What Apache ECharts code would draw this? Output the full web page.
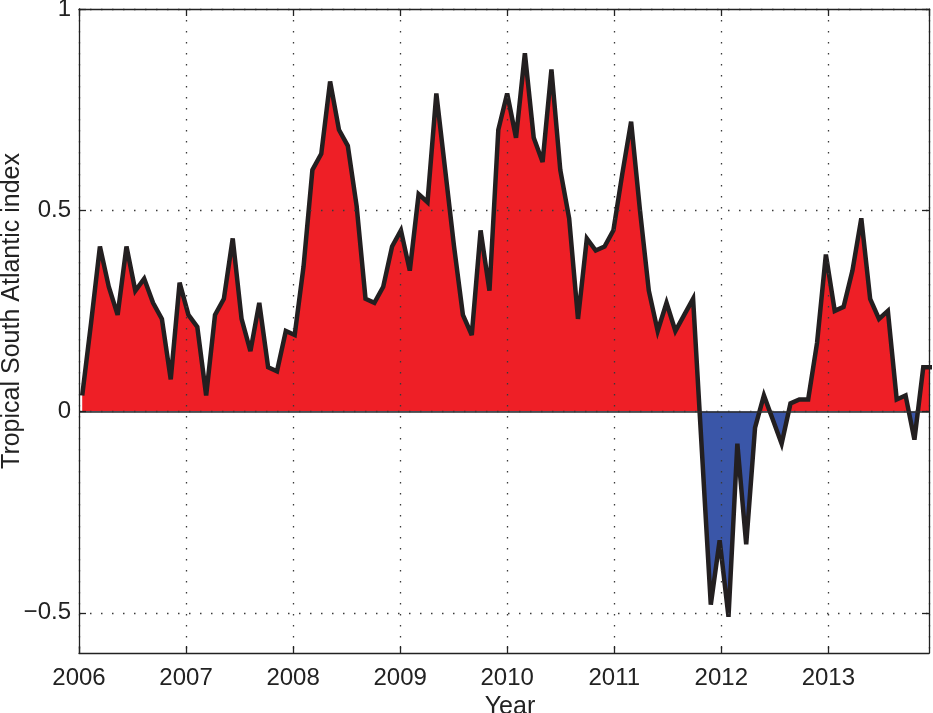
<!DOCTYPE html>
<html>
<head>
<meta charset="utf-8">
<script src="https://cdn.jsdelivr.net/npm/echarts@6/dist/echarts.min.js"></script>
<style>
  html, body {margin:0; padding:0; background:#fff;}
  #chart {width:933px; height:713px;}
</style>
</head>
<body>
<div id="chart"></div>
<script>
// Tropical South Atlantic index, monthly, Jan 2006 .. end 2013 (last sample lies past the right edge)
const indexValues = [
    0.04, 0.22, 0.41, 0.31, 0.24, 0.41, 0.30, 0.33, 0.27, 0.23, 0.08, 0.32,
    0.24, 0.21, 0.04, 0.24, 0.28, 0.43, 0.23, 0.15, 0.27, 0.11, 0.10, 0.20,
    0.19, 0.36, 0.60, 0.64, 0.82, 0.70, 0.66, 0.51, 0.28, 0.27, 0.31, 0.41,
    0.45, 0.35, 0.54, 0.52, 0.79, 0.60, 0.41, 0.24, 0.19, 0.45, 0.30, 0.70,
    0.79, 0.68, 0.89, 0.68, 0.62, 0.85, 0.60, 0.48, 0.23, 0.43, 0.40, 0.41,
    0.45, 0.59, 0.72, 0.50, 0.30, 0.20, 0.27, 0.20, 0.24, 0.28, -0.10, -0.48,
    -0.32, -0.51, -0.08, -0.33, -0.04, 0.04, -0.02, -0.08, 0.02, 0.03, 0.03, 0.17,
    0.39, 0.25, 0.26, 0.35, 0.48, 0.28, 0.23, 0.25, 0.03, 0.04, -0.07, 0.11,
    0.11
];
// time of each sample in decimal years (first sample and step)
const firstTime = 2006.03;
const sampleStep = 0.0827;
const times = indexValues.map((v, i) => firstTime + i * sampleStep);

const xMin = 2006, xMax = 2013.94;
const yMin = -0.6, yMax = 1;
const yTicks = [-0.5, 0, 0.5, 1];

const seriesData = indexValues.map((v, i) => [times[i], v]);

const font = "'Liberation Sans', Arial, Helvetica, sans-serif";
const ink = '#222';
const posColor = '#ee1f26', negColor = '#3a56a8';
const gridDots = {color:'#3a3a3a', width:1.3, type:[1.5, 9.5]};
const axisStroke = {color:ink, width:1.3};
const fmtY = v => v < 0 ? '\u2212' + Math.abs(v) : String(v);

let chart = echarts.init(document.getElementById('chart'), null, {renderer:'canvas'});
let options = {
    animation: false,
    backgroundColor: '#fff',
    grid: {left:79, right:4, top:9, bottom:60, outerBoundsMode:'none'},
    xAxis: [{
        type: 'value',
        min: xMin, max: xMax, interval: 1,
        position: 'bottom',
        z: 6,
        name: 'Year',
        nameLocation: 'middle',
        nameGap: 42,
        nameMoveOverlap: false,
        nameTextStyle: {fontFamily:font, fontSize:25, color:ink, verticalAlign:'top', padding:[0,0,0,12]},
        axisLine: {show:true, onZero:false, lineStyle:axisStroke},
        axisTick: {show:true, inside:true, length:7, lineStyle:axisStroke},
        axisLabel: {
            show:true, margin:13, fontFamily:font, fontSize:24, color:ink,
            showMaxLabel:false, formatter: v => String(Math.round(v))
        },
        splitLine: {show:true, lineStyle:gridDots}
    }, {
        type: 'value',
        min: xMin, max: xMax, interval: 1,
        position: 'top',
        z: 6,
        axisLine: {show:true, onZero:false, lineStyle:axisStroke},
        axisTick: {show:true, inside:true, length:7, lineStyle:axisStroke},
        axisLabel: {show:false},
        splitLine: {show:false}
    }],
    yAxis: [{
        type: 'value',
        min: yMin, max: yMax,
        position: 'left',
        z: 6,
        name: 'Tropical South Atlantic index',
        nameLocation: 'middle',
        nameRotate: 90,
        nameGap: 54,
        nameMoveOverlap: false,
        nameTextStyle: {fontFamily:font, fontSize:25, color:ink, padding:[0,0,0,40]},
        axisLine: {show:true, onZero:false, lineStyle:axisStroke},
        axisTick: {show:true, inside:true, length:7, customValues:yTicks, lineStyle:axisStroke},
        axisLabel: {show:true, margin:8, fontFamily:font, fontSize:24, color:ink, customValues:yTicks, formatter:fmtY},
        splitLine: {show:true, lineStyle:gridDots}
    }, {
        type: 'value',
        min: yMin, max: yMax,
        position: 'right',
        z: 6,
        axisLine: {show:true, onZero:false, lineStyle:axisStroke},
        axisTick: {show:true, inside:true, length:7, customValues:yTicks, lineStyle:axisStroke},
        axisLabel: {show:false, customValues:yTicks},
        splitLine: {show:false}
    }],
    series: [{
        // coloured fill (colour set below once the zero pixel is known)
        type: 'line',
        xAxisIndex: 0, yAxisIndex: 0,
        data: seriesData,
        symbol: 'none',
        silent: true,
        z: 2,
        lineStyle: {width:0},
        areaStyle: {opacity:1, color:posColor},
        markLine: {
            silent: true,
            symbol: ['none', 'none'],
            label: {show:false},
            lineStyle: {color:'#2b2b2b', width:1.5, type:'solid'},
            data: [{yAxis:0}]
        }
    }, {
        // black outline on top
        type: 'line',
        xAxisIndex: 0, yAxisIndex: 0,
        data: seriesData,
        symbol: 'none',
        silent: true,
        z: 4,
        lineStyle: {color:'#231f20', width:4.5, join:'miter', miterLimit:4}
    }, {
        // invisible copy so the top and right axes get drawn
        type: 'line',
        xAxisIndex: 1, yAxisIndex: 1,
        data: seriesData,
        symbol: 'none',
        silent: true,
        z: 1,
        lineStyle: {width:0, opacity:0}
    }]
};
chart.setOption(options);

// red above zero, blue below: hard stop at the pixel row of y = 0
let zeroY = chart.convertToPixel({yAxisIndex:0}, 0);
let h = chart.getHeight();
let split = zeroY / h;
let fill = new echarts.graphic.LinearGradient(0, 0, 0, h, [
    {offset:0, color:posColor},
    {offset:split, color:posColor},
    {offset:split, color:negColor},
    {offset:1, color:negColor}
], true);
chart.setOption({series:[{areaStyle:{opacity:1, color:fill}}, {}, {}]});
</script>
</body>
</html>
